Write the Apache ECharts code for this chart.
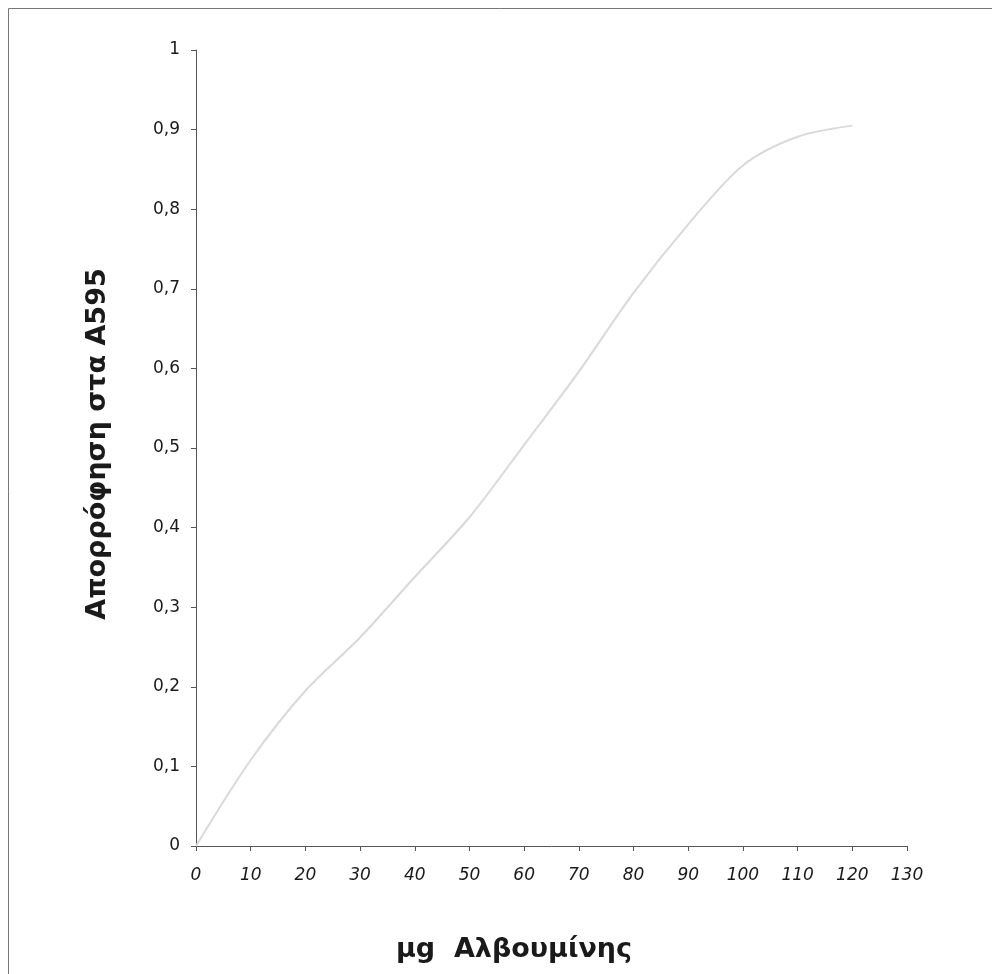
<!DOCTYPE html>
<html>
<head>
<meta charset="utf-8">
<script src="https://cdn.jsdelivr.net/npm/echarts@6/dist/echarts.min.js"></script>
<style>
html,body{margin:0;padding:0;background:#fff;}
#chart{width:992px;height:974px;}
</style>
</head>
<body>
<div id="chart"></div>
<script>
var xValues = [0, 10, 20, 30, 40, 50, 60, 70, 80, 90, 100, 110, 120];
var absorbance = [0, 0.108, 0.195, 0.262, 0.338, 0.413, 0.504, 0.596, 0.695, 0.781, 0.855, 0.891, 0.905];
var xTitle = 'μg  Αλβουμίνης';
var yTitle = 'Απορρόφηση στα Α595';

var chart = echarts.init(document.getElementById('chart'));
var pts = xValues.map(function (x, i) { return [x, absorbance[i]]; });
var axisColor = '#555';
var titleStyle = { fontFamily: 'DejaVu Sans', fontWeight: 'bold', fontSize: 27, fill: '#1a1a1a', align: 'center', verticalAlign: 'middle' };
chart.setOption({
  animation: false,
  backgroundColor: '#fff',
  grid: { left: 196, right: 85, top: 50, bottom: 128, containLabel: false },
  graphic: [
    { type: 'rect', shape: { x: 8.5, y: 8.5, width: 1000, height: 1000 }, style: { fill: 'none', stroke: '#777', lineWidth: 1 } },
    { type: 'text', x: 514, y: 950, style: Object.assign({ text: xTitle }, titleStyle) },
    { type: 'text', x: 98, y: 444, rotation: Math.PI / 2, style: Object.assign({ text: yTitle }, titleStyle) }
  ],
  xAxis: {
    type: 'value', min: 0, max: 130, interval: 10,
    axisLine: { show: true, lineStyle: { color: axisColor, width: 1 } },
    axisTick: { show: true, inside: false, length: 5, lineStyle: { color: axisColor } },
    axisLabel: { fontFamily: 'DejaVu Sans', fontStyle: 'italic', fontSize: 17, color: '#1a1a1a', margin: 21 },
    splitLine: { show: false }
  },
  yAxis: {
    type: 'value', min: 0, max: 1, interval: 0.1,
    axisLine: { show: true, lineStyle: { color: axisColor, width: 1 } },
    axisTick: { show: true, inside: false, length: 5, lineStyle: { color: axisColor } },
    axisLabel: {
      fontFamily: 'DejaVu Sans', fontSize: 17, color: '#1a1a1a', margin: 16,
      formatter: function (v) { return (Math.round(v * 10) / 10).toString().replace('.', ','); }
    },
    splitLine: { show: false }
  },
  series: [{
    type: 'line',
    data: pts,
    smooth: 0.3,
    showSymbol: false,
    lineStyle: { color: '#d9d9d9', width: 2 }
  }]
});
</script>
</body>
</html>
